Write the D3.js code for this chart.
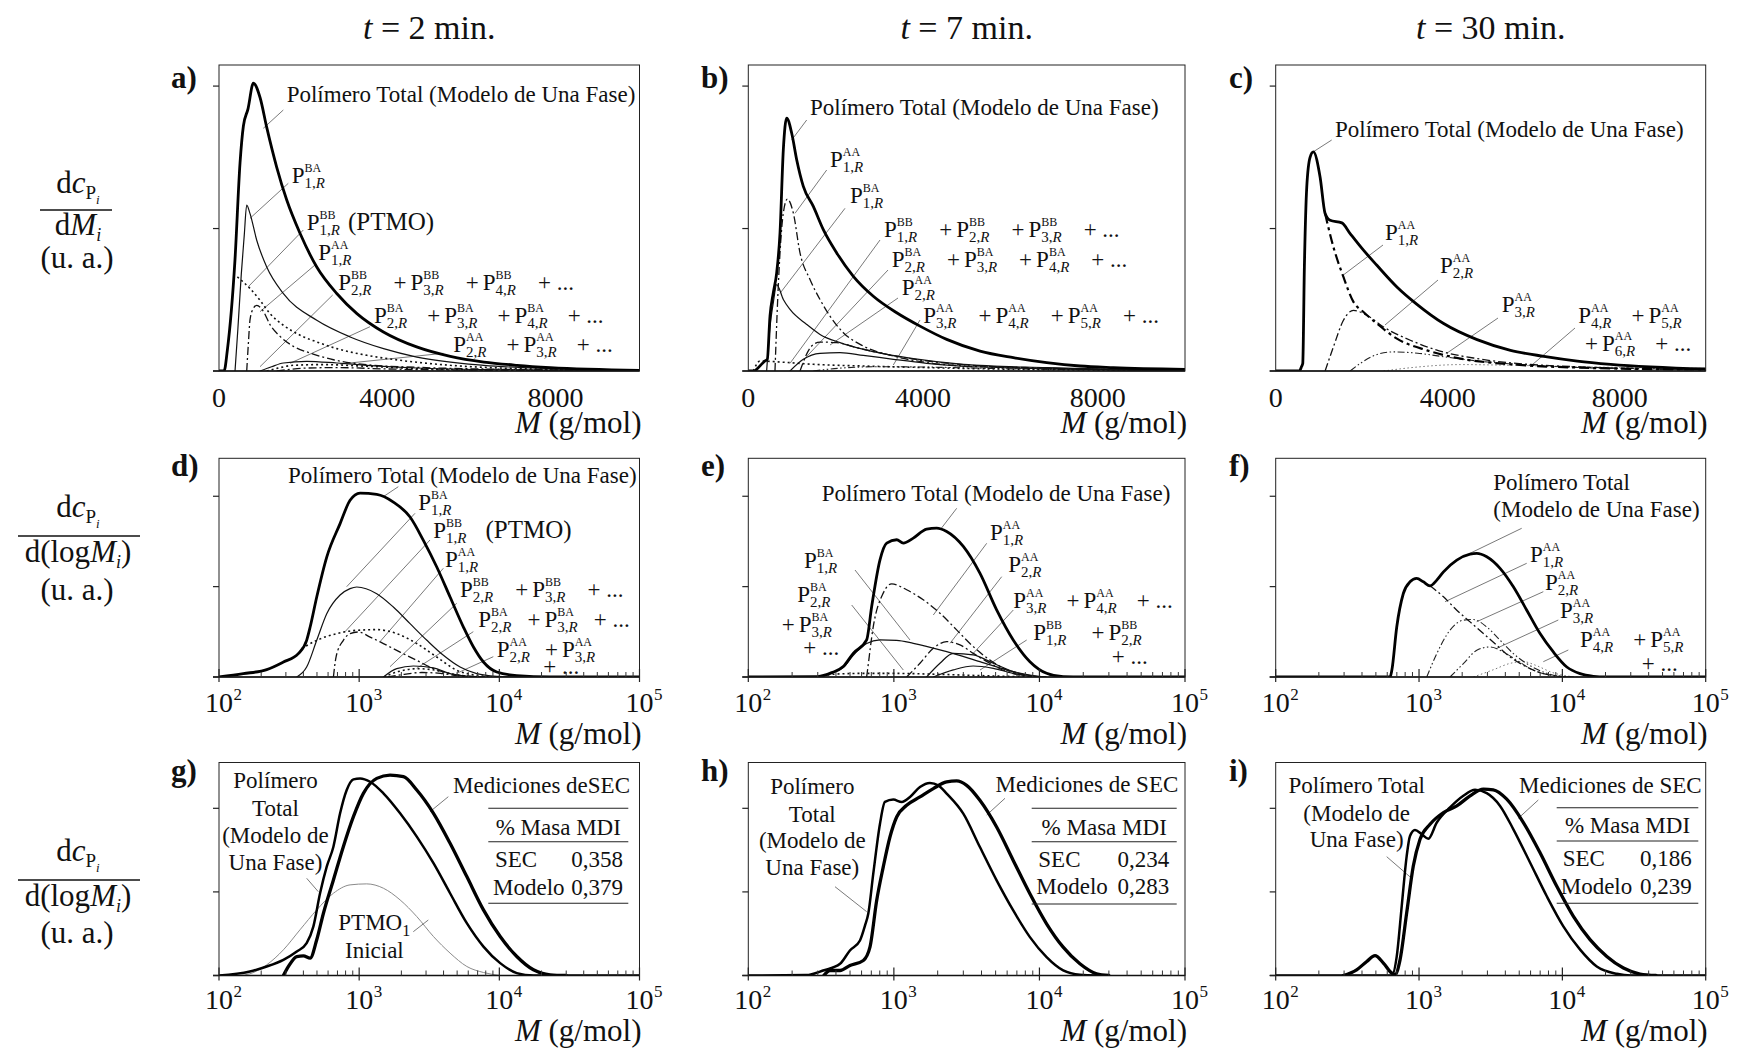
<!DOCTYPE html>
<html><head><meta charset="utf-8">
<script src="https://cdn.jsdelivr.net/npm/d3@7"></script>
<style>
body{margin:0;background:#fff}
svg{display:block}
text{font-family:"Liberation Serif","Times New Roman",serif;fill:#111}
</style></head><body>
<svg id="fig" width="1758" height="1049"></svg>
<script>
// ---- column headings and axis ticks ----
const timeLabels = ["2", "7", "30"];
const panelLetters = ["a", "b", "c", "d", "e", "f", "g", "h", "i"];
const linearTicks = [0, 4000, 8000];
const logTickExponents = [2, 3, 4, 5];
const yTicks = [0, 1, 2];

// ---- row 1: dc/dM (linear M) ----  [M (g/mol), value]
const a_total = [[0,0],[120,0],[200,0.15],[380,0.78],[500,1.46],[580,1.72],[690,1.84],[817,2.02],[976,1.92],[1135,1.71],[1373,1.43],[1611,1.2],[1929,0.965],[2325,0.73],[2800,0.544],[3280,0.403],[3910,0.274],[4700,0.169],[5500,0.103],[6300,0.063],[7090,0.04],[7880,0.024],[10000,0.005]];
const a_p1ba = [[381,0],[450,0.3],[530,0.68],[600,0.95],[659,1.164],[738,1.105],[897,0.918],[1135,0.73],[1532,0.543],[2325,0.356],[3119,0.239],[3913,0.157],[4706,0.098],[6294,0.04],[7881,0.017],[10000,0.005]];
const a_p1bb = [[437,0.66],[738,0.579],[976,0.496],[1214,0.403],[1532,0.321],[1929,0.251],[2325,0.204],[2802,0.157],[3517,0.11],[4310,0.075],[5500,0.04],[7087,0.017],[10000,0.005]];
const a_p1aa = [[659,0],[700,0.2],[738,0.36],[817,0.44],[897,0.461],[1056,0.418],[1214,0.325],[1452,0.243],[1770,0.173],[2167,0.126],[2722,0.079],[3517,0.044],[4706,0.026],[6294,0.014],[10000,0.005]];
const a_p2bb = [[976,0],[1250,0.03],[1532,0.056],[2087,0.068],[2802,0.056],[3517,0.04],[4706,0.021],[6294,0.01],[10000,0.002]];
const a_p2ba = [[1135,0],[1400,0.02],[1770,0.04],[2484,0.045],[3517,0.033],[4706,0.017],[6294,0.008],[10000,0.002]];
const a_p2aa = [[1373,0],[1700,0.012],[2008,0.02],[2802,0.024],[3913,0.015],[5500,0.007],[10000,0.002]];

const b_total = [[0,0],[150,0],[192,0.012],[382,0.07],[435,0.082],[497,0.385],[573,0.549],[650,0.689],[726,0.969],[802,1.553],[879,1.775],[994,1.669],[1108,1.483],[1260,1.296],[1489,1.155],[1718,0.992],[2024,0.829],[2405,0.665],[2863,0.525],[3398,0.409],[3932,0.315],[4543,0.222],[5306,0.14],[6069,0.094],[6833,0.059],[7596,0.035],[8359,0.024],[10000,0.012]];
const b_p1aa = [[611,0],[673,0.502],[726,0.829],[802,1.109],[894,1.207],[1031,1.109],[1184,0.829],[1413,0.642],[1642,0.502],[1871,0.385],[2176,0.269],[2634,0.175],[3322,0.105],[4085,0.059],[5306,0.031],[10000,0.005]];
const b_p1ba = [[420,0],[497,0.31],[573,0.48],[650,0.607],[802,0.502],[955,0.432],[1337,0.327],[1642,0.257],[2100,0.199],[2634,0.152],[3779,0.087],[4924,0.047],[6833,0.024],[10000,0.005]];
const b_pbb = [[115,0],[268,0.07],[726,0.063],[1489,0.047],[2634,0.035],[3779,0.026],[5306,0.016],[10000,0.003]];
const b_p2ba = [[955,0],[1260,0.082],[1642,0.124],[2100,0.129],[2634,0.11],[3322,0.082],[4085,0.054],[5306,0.028],[10000,0.003]];
const b_p2aa = [[1184,0],[1450,0.175],[1642,0.203],[2024,0.199],[2481,0.164],[3169,0.117],[3932,0.077],[4924,0.044],[6833,0.02],[10000,0.004]];
const b_p3aa = [[1489,0],[2100,0.02],[3000,0.03],[4000,0.028],[5500,0.018],[8000,0.008],[10000,0.004]];

const c_total = [[0,0],[550,0],[600,0.03],[629,0.052],[667,0.73],[722,1.29],[799,1.5],[876,1.538],[1032,1.362],[1149,1.105],[1265,1.058],[1538,1.04],[1731,0.965],[2041,0.848],[2353,0.742],[2819,0.59],[3285,0.468],[3905,0.333],[4683,0.22],[5460,0.145],[6237,0.103],[7014,0.07],[7791,0.047],[10000,0.014]];
const c_p1aa = [[1149,1.105],[1342,0.871],[1575,0.66],[1808,0.485],[2041,0.414],[2353,0.333],[2819,0.227],[3518,0.145],[4295,0.087],[5460,0.047],[7014,0.024],[10000,0.01]];
const c_p2aa = [[1149,0],[1342,0.169],[1575,0.356],[1808,0.426],[2119,0.391],[2508,0.309],[3130,0.216],[3905,0.133],[4683,0.087],[6237,0.04],[10000,0.01]];
const c_p3aa = [[1731,0],[2000,0.06],[2400,0.12],[2740,0.134],[3300,0.125],[3905,0.1],[4700,0.07],[5460,0.05],[7000,0.025],[10000,0.008]];
const c_p4aa = [[2508,0],[3200,0.025],[4295,0.045],[5500,0.04],[7000,0.03],[10000,0.018]];

// ---- row 2: dc/d(log M) ----
const d_total = [[100,0],[149,0.037],[219,0.082],[288,0.166],[368,0.259],[422,0.406],[447,0.553],[498,0.885],[587,1.327],[731,1.697],[861,1.955],[1015,2.035],[1335,2.021],[1754,1.936],[2307,1.77],[2871,1.512],[3578,1.217],[4452,0.885],[5543,0.553],[6537,0.332],[7703,0.166],[9592,0.055],[13327,0.015],[23060,0],[100000,0]];
const d_p1ba = [[359,0],[422,0.11],[498,0.406],[587,0.7],[731,0.907],[861,0.978],[961,0.996],[1335,0.922],[1754,0.774],[2307,0.59],[3042,0.406],[3990,0.24],[5248,0.11],[6899,0.037],[9592,0.007],[13000,0]];
const d_p1bb = [[389,0.314],[498,0.406],[692,0.48],[961,0.517],[1335,0.524],[1854,0.48],[2576,0.37],[3578,0.221],[4977,0.074],[6899,0.019],[9500,0]];
const d_p1aa = [[655,0],[684,0.221],[771,0.406],[861,0.48],[987,0.498],[1197,0.442],[1489,0.37],[1959,0.276],[2576,0.184],[3390,0.092],[4452,0.037],[5862,0.01],[8000,0]];
const d_p2bb = [[1489,0],[1854,0.092],[2437,0.122],[3390,0.1],[4452,0.037],[5862,0.01],[8000,0]];
const d_p2ba = [[1500,0],[1900,0.06],[2600,0.092],[3500,0.075],[4500,0.035],[6000,0.008],[8000,0]];
const d_p2aa = [[1600,0],[2100,0.03],[2800,0.05],[3800,0.04],[5000,0.015],[7000,0]];

const e_total = [[100,0],[300,0.005],[374,0.048],[449,0.115],[526,0.262],[650,0.41],[704,0.78],[803,1.297],[893,1.482],[1045,1.519],[1161,1.482],[1360,1.537],[1679,1.637],[1967,1.648],[2305,1.611],[2999,1.445],[3899,1.149],[5081,0.743],[6607,0.41],[8603,0.17],[11200,0.041],[14560,0.004],[20000,0],[100000,0]];
const e_p1aa = [[650,0],[655,0.04],[722,0.558],[845,0.928],[966,1.031],[1224,0.965],[1592,0.854],[2073,0.706],[2699,0.521],[3510,0.336],[4569,0.188],[5954,0.078],[8603,0.01],[11000,0]];
const e_p1ba = [[300,0],[374,0.04],[449,0.105],[526,0.24],[650,0.37],[803,0.41],[1045,0.405],[1360,0.373],[2305,0.28],[3899,0.17],[6607,0.059],[8603,0.022],[11200,0]];
const e_p2ba = [[300,0],[380,0.03],[600,0.04],[1000,0.04],[2000,0.03],[4000,0.015],[8000,0.003],[10000,0]];
const e_p2aa = [[1224,0],[1511,0.152],[1866,0.318],[2305,0.391],[2845,0.355],[3510,0.262],[4569,0.152],[5954,0.059],[8167,0.011],[10000,0]];
const e_p3aa = [[1679,0],[2073,0.152],[2559,0.262],[3510,0.244],[4818,0.152],[6607,0.059],[9059,0.011],[11000,0]];
const e_pbb = [[1866,0],[2559,0.078],[3510,0.122],[4818,0.096],[6607,0.041],[9059,0.004],[11000,0]];

const f_total = [[100,0],[628,0],[646,0.074],[699,0.554],[777,0.924],[865,1.053],[963,1.091],[1072,1.053],[1193,1.009],[1330,1.072],[1481,1.164],[1834,1.294],[2270,1.36],[2529,1.368],[2968,1.33],[3675,1.202],[4551,0.998],[5645,0.739],[6988,0.481],[8650,0.277],[10740,0.111],[13300,0.037],[16460,0.008],[20000,0],[100000,0]];
const f_p1aa = [[1193,1.009],[1481,0.887],[1834,0.739],[2270,0.61],[2812,0.481],[3483,0.351],[4314,0.222],[5645,0.111],[7364,0.037],[9637,0.008],[12000,0]];
const f_p2aa = [[1132,0],[1330,0.259],[1645,0.518],[2038,0.629],[2393,0.636],[2968,0.554],[3675,0.407],[4551,0.259],[5645,0.148],[7364,0.055],[9637,0.008],[12000,0]];
const f_p3aa = [[1645,0],[2038,0.148],[2529,0.296],[3126,0.333],[3873,0.277],[4809,0.185],[6281,0.074],[8650,0.015],[11000,0]];
const f_p4aa = [[2393,0],[3296,0.08],[4300,0.15],[5347,0.17],[6500,0.13],[8500,0.05],[11000,0.01],[13000,0]];

// ---- row 3: model vs SEC ----
const g_model = [[100,0],[166,0.048],[219,0.108],[288,0.188],[359,0.287],[422,0.387],[471,0.585],[526,0.984],[587,1.302],[655,1.541],[731,1.94],[815,2.219],[910,2.346],[1015,2.358],[1197,2.318],[1489,2.179],[1959,1.94],[2576,1.661],[3390,1.343],[4452,0.984],[5862,0.626],[7703,0.346],[10140,0.148],[13327,0.029],[17500,0],[100000,0]];
const g_sec = [[288,0],[313,0.108],[359,0.227],[400,0.235],[447,0.208],[498,0.427],[556,0.745],[655,1.143],[771,1.541],[910,1.9],[1072,2.179],[1335,2.358],[1660,2.398],[2070,2.378],[2576,2.219],[3390,1.94],[4452,1.582],[5862,1.183],[7703,0.785],[10140,0.466],[13327,0.227],[17500,0.068],[23060,0.008],[30000,0]];
const g_ptmo = [[140,0],[166,0.02],[219,0.128],[288,0.307],[378,0.546],[498,0.785],[655,0.984],[861,1.084],[1132,1.096],[1489,1.044],[1959,0.904],[2576,0.705],[3390,0.466],[4452,0.268],[5862,0.108],[7703,0.036],[10140,0]];

const h_model = [[100,0],[250,0.005],[327,0.06],[427,0.14],[499,0.299],[585,0.419],[634,0.599],[667,0.739],[722,1.218],[803,1.816],[868,2.076],[991,2.104],[1132,2.076],[1291,2.136],[1511,2.255],[1770,2.303],[2019,2.275],[2305,2.176],[2999,1.936],[3899,1.537],[5081,1.138],[6607,0.778],[8603,0.459],[11200,0.219],[14560,0.06],[18970,0.008],[25000,0]];
const h_sec = [[330,0],[364,0.06],[427,0.06],[499,0.12],[617,0.18],[685,0.339],[762,0.898],[845,1.297],[940,1.657],[1045,1.896],[1224,2.036],[1511,2.136],[1866,2.236],[2305,2.315],[2699,2.327],[3162,2.275],[3899,2.096],[5081,1.776],[6607,1.377],[8603,0.978],[11200,0.619],[14560,0.339],[18970,0.14],[24700,0.02],[30000,0]];

const i_model = [[100,0],[600,0],[646,0],[699,0.228],[757,0.828],[820,1.429],[865,1.669],[937,1.741],[1045,1.689],[1161,1.637],[1330,1.83],[1645,2.01],[2038,2.15],[2460,2.221],[2968,2.181],[3675,2.029],[4551,1.749],[5960,1.349],[7786,0.948],[10160,0.588],[13300,0.309],[17380,0.108],[23990,0.02],[30000,0],[100000,0]];
const i_sec = [[296,0],[367,0.068],[432,0.168],[493,0.237],[564,0.149],[646,0.029],[680,0.01],[737,0.188],[820,0.749],[912,1.309],[1016,1.629],[1193,1.809],[1481,1.95],[1834,2.029],[2270,2.149],[2812,2.229],[3296,2.221],[4093,2.109],[5347,1.83],[6988,1.469],[9139,1.068],[11940,0.708],[15600,0.429],[20420,0.228],[26680,0.089],[34830,0.017],[45000,0]];

// table values shown in the bottom row
const secMass = ["0,358", "0,234", "0,186"];
const modelMass = ["0,379", "0,283", "0,239"];

// ---- layout ----
const COLS = [{x0: 219, x1: 639.5}, {x0: 748.3, x1: 1185}, {x0: 1275.7, x1: 1705.7}];
const ROWS = [
  {y0: 65, y1: 371, ymax: 2.148, type: "lin", tickY: 36, titleY: 62},
  {y0: 458.3, y1: 677, ymax: 2.42, type: "log", tickY: 35, titleY: 67},
  {y0: 762.5, y1: 975.5, ymax: 2.548, type: "log", tickY: 33, titleY: 65.5}
];
const letterX = [171, 701, 1229];
const letterY = [88, 476, 781];

const styles = {
  thick: {w: 2.8, c: "#000"},
  thin: {w: 1.2, c: "#111"},
  dot: {w: 1.6, c: "#111", d: "2,3"},
  dashdot: {w: 1.3, c: "#111", d: "8,3,2,3"},
  dashdotBold: {w: 2.2, c: "#000", d: "10,4,3,4"},
  dashdotdot: {w: 1.1, c: "#222", d: "7,2.5,1.5,2.5,1.5,2.5"},
  faint: {w: 1, c: "#777", d: "1.5,2.5"},
  model: {w: 2.5, c: "#000"},
  sec: {w: 3.3, c: "#000"},
  gray: {w: 1, c: "#8a8a8a"}
};

const panels = [
  {row: 0, col: 0,
   series: [[a_p2aa,"dashdot"],[a_p2ba,"dot"],[a_p2bb,"thin"],[a_p1aa,"dashdot"],[a_p1bb,"dot"],[a_p1ba,"thin"],[a_total,"thick"]],
   labels: [
     {x: 67.7, y: 36.7, t: ["Polímero Total (Modelo de Una Fase)"]},
     {x: 72.7, y: 117.7, t: [["1","BA"]]},
     {x: 87.7, y: 165, t: [["1","BB"], {text: "(PTMO)", size: 25}], gap: 8},
     {x: 99.3, y: 195, t: [["1","AA"]]},
     {x: 119.3, y: 225, t: [["2","BB"],"+",["3","BB"],"+",["4","BB"],"+ ..."]},
     {x: 155, y: 257.7, t: [["2","BA"],"+",["3","BA"],"+",["4","BA"],"+ ..."], gap: 20},
     {x: 234.3, y: 287.3, t: [["2","AA"],"+",["3","AA"],"+ ..."], gap: 20}],
   leaders: [[64.3,45,44.3,63.3],[69.3,118.3,31,153.3],[84.3,165,29.3,221.7],[96,200,41,246.7],[113.7,230,41,301.7],[151,261.7,71,298.3],[224.3,288.3,121,299]]},
  {row: 0, col: 1,
   series: [[b_p3aa,"dashdotdot"],[b_pbb,"dot"],[b_p2ba,"thin"],[b_p2aa,"dashdot"],[b_p1ba,"thin"],[b_p1aa,"dashdot"],[b_total,"thick"]],
   labels: [
     {x: 61.7, y: 50, t: ["Polímero Total (Modelo de Una Fase)"]},
     {x: 81.7, y: 101.7, t: [["1","AA"]]},
     {x: 101.7, y: 137.7, t: [["1","BA"]]},
     {x: 135.7, y: 172.3, t: [["1","BB"],"+",["2","BB"],"+",["3","BB"],"+ ..."]},
     {x: 143.4, y: 201.7, t: [["2","BA"],"+",["3","BA"],"+",["4","BA"],"+ ..."]},
     {x: 153.4, y: 230, t: [["2","AA"]]},
     {x: 175, y: 258.3, t: [["3","AA"],"+",["4","AA"],"+",["5","AA"],"+ ..."]}],
   leaders: [[58.4,55,43.4,75],[78.4,105,46.7,148.3],[96.7,143.3,31.7,228.3],[131.7,175,41.7,298.3],[139.7,205,56.7,293.3],[149.7,233,81.7,280],[171.7,255,145,300]]},
  {row: 0, col: 2,
   series: [[c_p4aa,"faint"],[c_p3aa,"dashdotdot"],[c_p2aa,"dashdot"],[c_p1aa,"dashdotBold"],[c_total,"thick"]],
   labels: [
     {x: 59.3, y: 71.7, t: ["Polímero Total (Modelo de Una Fase)"]},
     {x: 109.3, y: 175, t: [["1","AA"]]},
     {x: 164.3, y: 208.3, t: [["2","AA"]]},
     {x: 226, y: 246.7, t: [["3","AA"]]},
     {x: 302.6, y: 257.7, t: [["4","AA"],"+",["5","AA"]], gap: 20},
     {x: 309.3, y: 286, t: ["+",["6","AA"],"+ ..."], gap: 20}],
   leaders: [[56,75,37.3,87],[107.3,180,67.6,210],[162.3,215,109.3,260],[222.3,253,171,288.3],[299.3,263,254.3,301.7]]},
  {row: 1, col: 0,
   series: [[d_p2aa,"dashdot"],[d_p2ba,"dot"],[d_p2bb,"thin"],[d_p1aa,"dashdot"],[d_p1bb,"dot"],[d_p1ba,"thin"],[d_total,"thick"]],
   labels: [
     {x: 69, y: 25, t: ["Polímero Total (Modelo de Una Fase)"]},
     {x: 199.3, y: 51.7, t: [["1","BA"]]},
     {x: 214.3, y: 80, t: [["1","BB"], {text: "(PTMO)", size: 25}], gap: 19},
     {x: 226, y: 108.4, t: [["1","AA"]]},
     {x: 241, y: 139, t: [["2","BB"],"+",["3","BB"],"+ ..."]},
     {x: 259.3, y: 168.4, t: [["2","BA"],"+",["3","BA"],"+ ..."], gap: 16},
     {x: 277.7, y: 198.4, t: [["2","AA"],"+",["3","AA"]], gap: 15},
     {x: 324.3, y: 216, t: ["+ ..."]}],
   leaders: [[179.3,28.4,164.3,38.4],[196,55,127.7,128.4],[211,81.7,126,173.4],[224.3,110,161,183.4],[237.7,145,171,208.4],[254.3,173.4,197.7,210],[274.3,198.4,237.7,215]]},
  {row: 1, col: 1,
   series: [[e_p2ba,"dot"],[e_pbb,"thin"],[e_p3aa,"thin"],[e_p2aa,"dashdot"],[e_p1ba,"thin"],[e_p1aa,"dashdot"],[e_total,"thick"]],
   labels: [
     {x: 73.4, y: 42.7, t: ["Polímero Total (Modelo de Una Fase)"]},
     {x: 241.7, y: 81.7, t: [["1","AA"]]},
     {x: 55.7, y: 109.4, t: [["1","BA"]]},
     {x: 260, y: 113.4, t: [["2","AA"]]},
     {x: 49, y: 144, t: [["2","BA"]]},
     {x: 33.4, y: 174, t: ["+",["3","BA"]]},
     {x: 55, y: 197, t: ["+ ..."]},
     {x: 265, y: 150, t: [["3","AA"],"+",["4","AA"],"+ ..."], gap: 20},
     {x: 285, y: 181.7, t: [["1","BB"],"+",["2","BB"]], gap: 25},
     {x: 363.4, y: 206, t: ["+ ..."]}],
   leaders: [[208.4,50,191.7,71.7],[238.4,85,185,156.7],[106.7,111.7,161.7,181.7],[253.4,118.4,201.7,185],[103.4,146.7,155,211.7],[265,151.7,225,195],[278.4,181.7,231.7,211.7]]},
  {row: 1, col: 2,
   series: [[f_p4aa,"faint"],[f_p3aa,"dashdotdot"],[f_p2aa,"dashdotdot"],[f_p1aa,"dashdot"],[f_total,"thick"]],
   labels: [
     {x: 217.6, y: 31.7, t: ["Polímero Total"]},
     {x: 217.6, y: 58.4, t: ["(Modelo de Una Fase)"]},
     {x: 254.3, y: 103.4, t: [["1","AA"]]},
     {x: 269.3, y: 131.7, t: [["2","AA"]]},
     {x: 284.3, y: 160, t: [["3","AA"]]},
     {x: 304.3, y: 188.4, t: [["4","AA"],"+",["5","AA"]], gap: 20},
     {x: 366, y: 213, t: ["+ ..."]}],
   leaders: [[246,70,194.3,95],[251,105,169.3,143.4],[267.6,133.4,201,163.4],[282.6,161.7,221,190],[292.6,191.7,267.6,203.4]]},
  {row: 2, col: 0,
   series: [[g_ptmo,"gray"],[g_model,"model"],[g_sec,"sec"]],
   texts: [
     {x: 56.5, y: 25.8, s: "Polímero", a: "middle"},{x: 56.5, y: 53.5, s: "Total", a: "middle"},
     {x: 56.5, y: 80.8, s: "(Modelo de", a: "middle"},{x: 56.5, y: 107.5, s: "Una Fase)", a: "middle"},
     {x: 411, y: 30.8, s: "Mediciones deSEC", a: "end"},
     {x: 126, y: 195.8, s: "Inicial", a: "start"}],
   ptmo: {x: 119.3, y: 167.5},
   table: {x0: 269.3, x1: 409.3, r: [45.8, 79.2, 140.8], head: 72.5, row1: 104.2, row2: 132.5, lx: 276, rx: 404},
   leaders: [[87.7,115.8,99.3,129.2],[229.3,34.2,211,49.2],[194.3,169.2,209.3,157.5]]},
  {row: 2, col: 1,
   series: [[h_model,"model"],[h_sec,"sec"]],
   texts: [
     {x: 64, y: 31.5, s: "Polímero", a: "middle"},{x: 64, y: 59.2, s: "Total", a: "middle"},
     {x: 64, y: 85.8, s: "(Modelo de", a: "middle"},{x: 64, y: 112.5, s: "Una Fase)", a: "middle"},
     {x: 430, y: 29.2, s: "Mediciones de SEC", a: "end"}],
   table: {x0: 283.4, x1: 428.4, r: [45.8, 79.2, 141.5], head: 72.5, row1: 104.2, row2: 131.5, lx: 290, rx: 421},
   leaders: [[86.7,124.2,118.4,149.2],[256.7,35.8,238.4,52.5]]},
  {row: 2, col: 2,
   series: [[i_model,"model"],[i_sec,"sec"]],
   texts: [
     {x: 81, y: 30.8, s: "Polímero Total", a: "middle"},
     {x: 81, y: 58.2, s: "(Modelo de", a: "middle"},{x: 81, y: 84.8, s: "Una Fase)", a: "middle"},
     {x: 426, y: 30.8, s: "Mediciones de SEC", a: "end"}],
   table: {x0: 281, x1: 422.6, r: [45.2, 78.5, 140.8], head: 70.8, row1: 103.5, row2: 131.5, lx: 287, rx: 416},
   leaders: [[111,94.2,136,115.8],[262.6,37.5,242.6,55.8]]}
];

const svg = d3.select("#fig");
const defs = svg.append("defs");

// one text element per label; species symbols P^{sup}_{sub,R} are stacked tspans
function drawTokens(g, x, y, tokens, gap) {
  const text = g.append("text");
  let cx = x;
  tokens.forEach(tk => {
    if (Array.isArray(tk)) {
      const p = text.append("tspan").attr("x", cx).attr("y", y).style("font-size", "23px").text("P");
      const w = p.node().getComputedTextLength();
      const sup = text.append("tspan").attr("x", cx + w).attr("y", y - 11.2).style("font-size", "12px").text(tk[1]);
      const sub1 = text.append("tspan").attr("x", cx + w).attr("y", y + 4.8).style("font-size", "15px").text(tk[0] + ",");
      const sub2 = text.append("tspan").style("font-size", "15px").style("font-style", "italic").text("R");
      const ws = Math.max(sup.node().getComputedTextLength(),
        sub1.node().getComputedTextLength() + sub2.node().getComputedTextLength());
      cx += w + ws + gap;
    } else {
      const txt = typeof tk === "string" ? tk : tk.text;
      const size = typeof tk === "object" ? tk.size : 23;
      const t = text.append("tspan").attr("x", cx).attr("y", y).style("font-size", size + "px").text(txt);
      cx += t.node().getComputedTextLength() + 4;
    }
  });
}

panels.forEach((p, k) => {
  const col = COLS[p.col], row = ROWS[p.row];
  const x = row.type === "lin"
    ? d3.scaleLinear().domain([0, 10000]).range([col.x0, col.x1])
    : d3.scaleLog().domain([100, 1e5]).range([col.x0, col.x1]);
  const y = d3.scaleLinear().domain([0, row.ymax]).range([row.y1, row.y0]);
  const g = svg.append("g");

  const clipId = "clip" + k;
  defs.append("clipPath").attr("id", clipId).append("rect")
    .attr("x", col.x0).attr("y", row.y0).attr("width", col.x1 - col.x0).attr("height", row.y1 - row.y0);

  // leader lines from labels to curves
  const ox = col.x0, oy = row.y0;
  g.selectAll(".leader").data(p.leaders).join("line")
    .attr("x1", d => ox + d[0]).attr("y1", d => oy + d[1])
    .attr("x2", d => ox + d[2]).attr("y2", d => oy + d[3])
    .attr("stroke", "#6a6a6a").attr("stroke-width", 0.9);

  // curves
  const line = d3.line().x(d => x(d[0])).y(d => y(d[1])).curve(d3.curveMonotoneX);
  const cg = g.append("g").attr("clip-path", `url(#${clipId})`);
  p.series.forEach(([data, sk]) => {
    const st = styles[sk];
    cg.append("path").attr("d", line(data)).attr("fill", "none")
      .attr("stroke", st.c).attr("stroke-width", st.w)
      .attr("stroke-dasharray", st.d || null)
      .attr("stroke-linejoin", "round").attr("stroke-linecap", st.d ? "butt" : "round");
  });

  // frame
  g.append("rect").attr("x", col.x0).attr("y", row.y0)
    .attr("width", col.x1 - col.x0).attr("height", row.y1 - row.y0)
    .attr("fill", "none").attr("stroke", "#222").attr("stroke-width", 1);
  g.append("line").attr("x1", col.x0 - 6).attr("x2", col.x1).attr("y1", row.y1).attr("y2", row.y1)
    .attr("stroke", "#111").attr("stroke-width", 1.7);

  // y ticks
  g.selectAll(".yt").data(yTicks).join("line")
    .attr("x1", col.x0 - 6).attr("x2", col.x0)
    .attr("y1", d => y(d)).attr("y2", d => y(d))
    .attr("stroke", "#222").attr("stroke-width", 1.2);

  // x axis
  if (row.type === "lin") {
    g.selectAll(".xl").data(linearTicks).join("text")
      .attr("x", d => x(d)).attr("y", row.y1 + row.tickY)
      .attr("text-anchor", "middle").style("font-size", "28px").text(d => d);
  } else {
    const minors = [];
    for (let e = 2; e < 5; e++) for (let m = 2; m <= 9; m++) minors.push(m * Math.pow(10, e));
    g.selectAll(".mt").data(minors).join("line")
      .attr("x1", d => x(d)).attr("x2", d => x(d))
      .attr("y1", row.y1).attr("y2", row.y1 - 5)
      .attr("stroke", "#333").attr("stroke-width", 1);
    logTickExponents.forEach(e => {
      const v = Math.pow(10, e), xx = x(v);
      g.append("line").attr("x1", xx).attr("x2", xx).attr("y1", row.y1 - 8).attr("y2", row.y1 + 5)
        .attr("stroke", "#222").attr("stroke-width", 1.2);
      const t = g.append("text").attr("y", row.y1 + row.tickY).style("font-size", "28px");
      const base = t.append("tspan").attr("x", xx).attr("text-anchor", "middle").text("10");
      const hw = base.node().getComputedTextLength() / 2;
      t.append("tspan").attr("x", xx + hw + 0.5).attr("y", row.y1 + row.tickY - 12)
        .style("font-size", "17px").text(e);
    });
  }
  const at = g.append("text").attr("x", col.x1 + 2).attr("y", row.y1 + row.titleY)
    .attr("text-anchor", "end").style("font-size", "31px");
  at.append("tspan").style("font-style", "italic").text("M");
  at.append("tspan").text(" (g/mol)");

  // panel letter
  g.append("text").attr("x", letterX[p.col]).attr("y", letterY[p.row])
    .style("font-size", "31px").style("font-weight", "bold").text(panelLetters[k] + ")");

  // species labels
  (p.labels || []).forEach(l => drawTokens(g, ox + l.x, oy + l.y, l.t, l.gap === undefined ? 22 : l.gap));

  // plain text labels
  (p.texts || []).forEach(t => g.append("text").attr("x", ox + t.x).attr("y", oy + t.y)
    .attr("text-anchor", t.a).style("font-size", "23px").text(t.s));

  if (p.ptmo) {
    const t = g.append("text").attr("x", ox + p.ptmo.x).attr("y", oy + p.ptmo.y).style("font-size", "23px");
    t.append("tspan").text("PTMO");
    t.append("tspan").attr("dy", 6).style("font-size", "16px").text("1");
  }

  if (p.table) {
    const tb = p.table;
    tb.r.forEach(r => g.append("line").attr("x1", ox + tb.x0).attr("x2", ox + tb.x1)
      .attr("y1", oy + r).attr("y2", oy + r).attr("stroke", "#222").attr("stroke-width", 1.1));
    g.append("text").attr("x", ox + (tb.x0 + tb.x1) / 2).attr("y", oy + tb.head)
      .attr("text-anchor", "middle").style("font-size", "23px").text("% Masa MDI");
    g.append("text").attr("x", ox + tb.lx).attr("y", oy + tb.row1).style("font-size", "23px").text("SEC");
    g.append("text").attr("x", ox + tb.rx).attr("y", oy + tb.row1).attr("text-anchor", "end")
      .style("font-size", "23px").text(secMass[p.col]);
    g.append("text").attr("x", ox + tb.lx - 2).attr("y", oy + tb.row2).style("font-size", "23px").text("Modelo");
    g.append("text").attr("x", ox + tb.rx).attr("y", oy + tb.row2).attr("text-anchor", "end")
      .style("font-size", "23px").text(modelMass[p.col]);
  }
});

// column headings
timeLabels.forEach((tl, i) => {
  const t = svg.append("text").attr("x", (COLS[i].x0 + COLS[i].x1) / 2).attr("y", 39)
    .attr("text-anchor", "middle").style("font-size", "34px");
  t.append("tspan").style("font-style", "italic").text("t");
  t.append("tspan").text(" = " + tl + " min.");
});

// y-axis quantity labels
const yLabels = [
  {num: 193, line: 210, den: 235, ua: 268, lx0: 40, lx1: 112, log: false},
  {num: 517, line: 536, den: 562, ua: 600, lx0: 18, lx1: 140, log: true},
  {num: 861, line: 880, den: 906, ua: 943, lx0: 18, lx1: 140, log: true}
];
yLabels.forEach(l => {
  const n = svg.append("text").attr("x", 78).attr("y", l.num).attr("text-anchor", "middle").style("font-size", "31px");
  n.append("tspan").text("d");
  n.append("tspan").style("font-style", "italic").text("c");
  n.append("tspan").attr("dy", 6).style("font-size", "19px").text("P");
  n.append("tspan").attr("dy", 5).style("font-size", "13px").style("font-style", "italic").text("i");
  svg.append("line").attr("x1", l.lx0).attr("x2", l.lx1).attr("y1", l.line).attr("y2", l.line)
    .attr("stroke", "#111").attr("stroke-width", 1.3);
  const d = svg.append("text").attr("x", 78).attr("y", l.den).attr("text-anchor", "middle").style("font-size", "31px");
  d.append("tspan").text(l.log ? "d(log" : "d");
  d.append("tspan").style("font-style", "italic").text("M");
  d.append("tspan").attr("dy", 6).style("font-size", "18px").style("font-style", "italic").text("i");
  if (l.log) d.append("tspan").attr("dy", -6).text(")");
  svg.append("text").attr("x", 77).attr("y", l.ua).attr("text-anchor", "middle").style("font-size", "31px").text("(u. a.)");
});
</script></body></html>
